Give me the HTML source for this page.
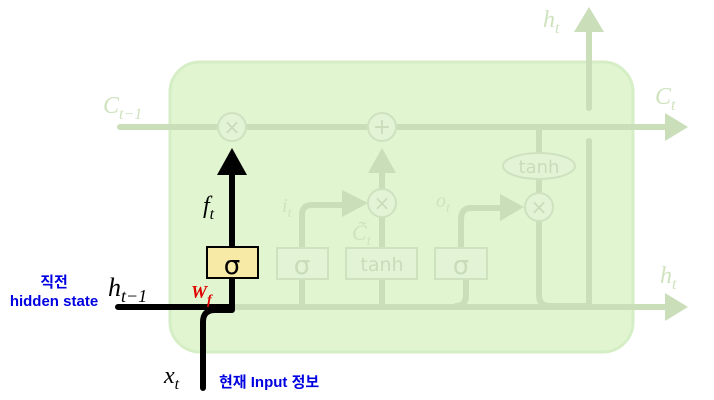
<!DOCTYPE html>
<html><head><meta charset="utf-8"><style>
html,body{margin:0;padding:0;background:#fff;width:714px;height:400px;overflow:hidden}
svg{display:block}
.m{font-family:"Liberation Serif",serif;font-style:italic}
</style></head><body>
<svg width="714" height="400" viewBox="0 0 714 400" xmlns="http://www.w3.org/2000/svg">
<rect x="170" y="62" width="463" height="290" rx="30" fill="#e0f5d0" stroke="#d5eec5" stroke-width="3"/>
<g stroke="#c9deb9" stroke-width="6" fill="none" stroke-linecap="round">
<line x1="120" y1="127" x2="668" y2="127"/>
<path d="M120 307 H668"/>
<line x1="382" y1="170" x2="382" y2="248"/>
<line x1="382" y1="278" x2="382" y2="307"/>
<line x1="302" y1="278" x2="302" y2="307"/>
<path d="M302 248 V215 Q302 205 312 205 H350"/>
<path d="M466 278 V295 Q466 306 456 306"/>
<path d="M461 248 V220 Q461 208 471 208 H505"/>
<line x1="539" y1="127" x2="539" y2="153"/>
<line x1="539" y1="179" x2="539" y2="193"/>
<path d="M539 221 V295 Q539 306 550 306 H589"/>
<line x1="589" y1="141" x2="589" y2="305"/>
<line x1="589" y1="108" x2="589" y2="30"/>
</g>
<g fill="#c9deb9">
<polygon points="665,113 688,127 665,141"/>
<polygon points="665,293 688,307 665,321"/>
<polygon points="574,32 589,7 604,32"/>
<polygon points="368,173 382,148 396,173"/>
<polygon points="342,190 368,203 342,217"/>
<polygon points="500,194 524,207 500,221"/>
</g>
<g stroke="#cfe2c0" stroke-width="2" fill="#e3f3d6">
<circle cx="232" cy="127" r="14"/>
<circle cx="382" cy="127" r="14"/>
<circle cx="382" cy="203" r="14"/>
<circle cx="539" cy="207" r="14"/>
<ellipse cx="539" cy="166" rx="36" ry="13"/>
<rect x="277" y="248" width="51" height="31"/>
<rect x="346" y="248" width="71" height="31"/>
<rect x="435" y="248" width="52" height="31"/>
</g>
<g fill="#c9dcba" font-family="'DejaVu Sans','Liberation Sans',sans-serif" text-anchor="middle">
<text x="232" y="134" font-size="20">×</text>
<text x="382" y="134" font-size="22">+</text>
<text x="382" y="210" font-size="20">×</text>
<text x="539" y="214" font-size="20">×</text>
<text x="539" y="173" font-size="18">tanh</text>
<text x="302" y="274" font-size="26">σ</text>
<text x="382" y="271" font-size="19">tanh</text>
<text x="461" y="274" font-size="26">σ</text>
</g>
<g fill="#cfe3bf" class="m">
<text x="103" y="113" font-size="24">C<tspan font-size="16" dy="6">t−1</tspan></text>
<text x="655" y="104" font-size="24">C<tspan font-size="16" dy="6">t</tspan></text>
<text x="543" y="27" font-size="24">h<tspan font-size="16" dy="6">t</tspan></text>
<text x="660" y="283" font-size="24">h<tspan font-size="16" dy="6">t</tspan></text>
<text x="282" y="212" font-size="20">i<tspan font-size="14" dy="5">t</tspan></text>
<text x="436" y="207" font-size="20">o<tspan font-size="14" dy="5">t</tspan></text>
<text x="352" y="240" font-size="22">C̃<tspan font-size="14" dy="5">t</tspan></text>
</g>
<g stroke="#000" stroke-width="6" fill="none" stroke-linecap="round">
<path d="M118 307 H232 V278"/>
<line x1="232" y1="247" x2="232" y2="172"/>
<path d="M203 388 V322 Q203 310 215 310 H232"/>
</g>
<polygon points="217,175 232,148 247,175" fill="#000"/>
<rect x="207" y="247" width="51" height="31" fill="#f7e9a6" stroke="#000" stroke-width="2"/>
<text x="232" y="274" font-size="26" text-anchor="middle" font-family="'DejaVu Sans',sans-serif" fill="#000">σ</text>
<text x="203" y="213" class="m" font-size="24" fill="#000">f<tspan font-size="16" dy="6">t</tspan></text>
<text x="108" y="296" class="m" font-size="26" fill="#000">h<tspan font-size="18" dy="6">t−1</tspan></text>
<text x="164" y="383" class="m" font-size="24" fill="#000">x<tspan font-size="16" dy="6">t</tspan></text>
<text x="191" y="298" font-family="'Liberation Serif',serif" font-style="italic" font-weight="bold" font-size="18" fill="#e00000">W<tspan font-size="14" dy="6">f</tspan></text>
<g fill="#0000e0" font-family="'Liberation Sans','Noto Sans CJK KR',sans-serif" font-weight="bold" font-size="15">
<text x="54" y="287" text-anchor="middle">직전</text>
<text x="54" y="306" text-anchor="middle">hidden state</text>
<text x="219" y="387">현재 Input 정보</text>
</g>
</svg>
</body></html>
